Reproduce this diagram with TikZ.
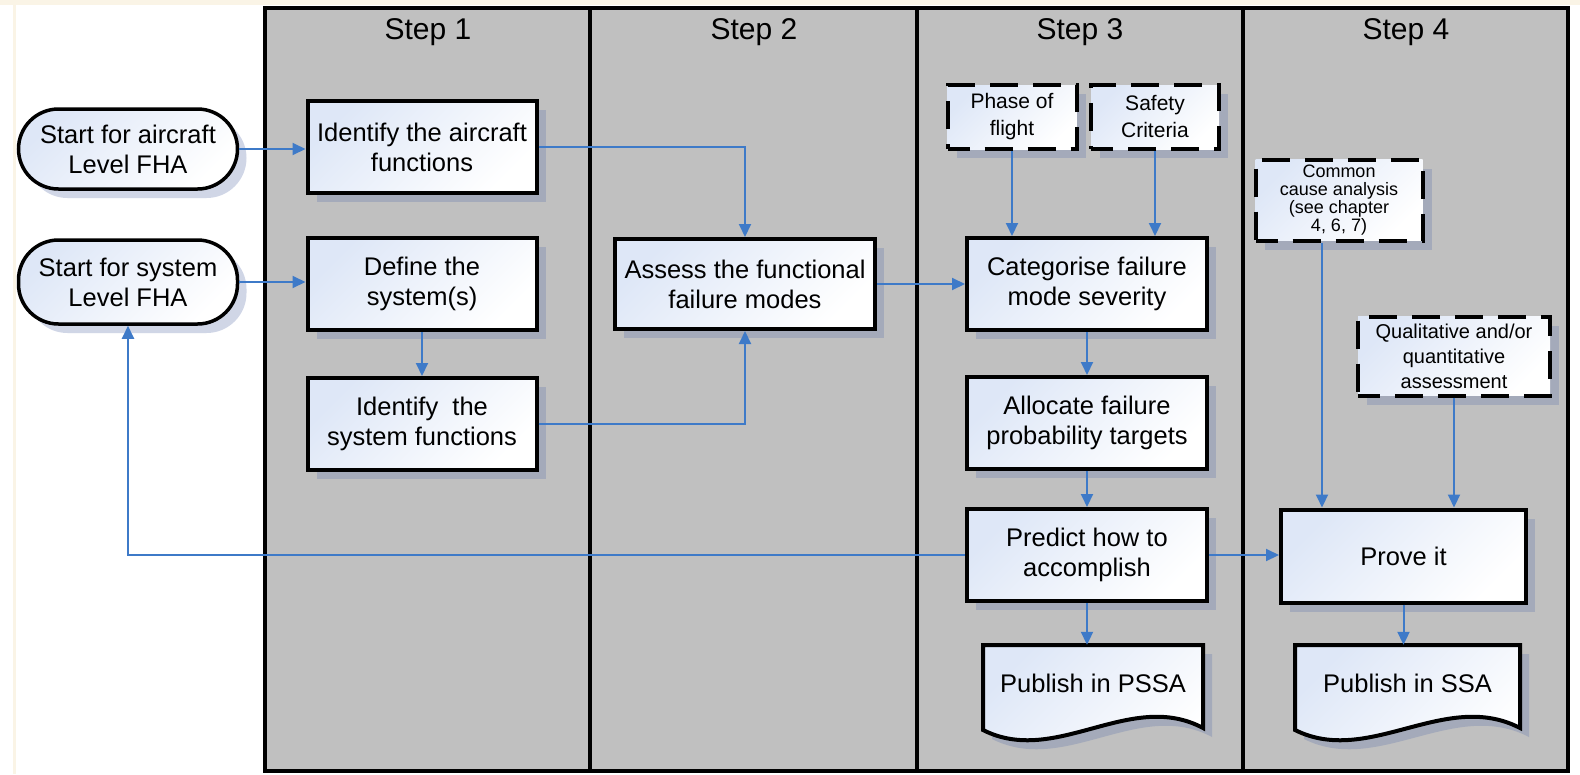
\documentclass[tikz,border=0pt]{standalone}
\usepackage{fontspec}
\setmainfont{Liberation Sans}
\usetikzlibrary{arrows.meta,shadows,calc}
\definecolor{lanegray}{RGB}{192,192,192}
\definecolor{arrowblue}{RGB}{62,122,200}
\definecolor{boxtop}{RGB}{222,231,247}
\definecolor{shadowc}{RGB}{100,120,175}
\definecolor{cream}{RGB}{250,244,230}
\tikzset{
  shadowed/.style={drop shadow={shadow xshift=9pt, shadow yshift=-9pt, fill=shadowc, opacity=0.3}},
  boxfill/.style={top color=boxtop, bottom color=white, shading angle=45},
  procbox/.style={shadowed, boxfill, draw=black, line width=4pt, rectangle, inner sep=0pt, align=center, font=\fontsize{25.5}{30}\selectfont},
  startbox/.style={procbox, line width=3.5pt, rounded corners=40pt},
  inputbox/.style={shadowed, boxfill, draw=black, line width=4pt, dash pattern=on 28pt off 15pt, dash phase=6pt, rectangle, inner sep=0pt, align=center},
  docbox/.style={rectangle, inner sep=0pt, align=center, font=\fontsize{25.5}{30}\selectfont},
  docline/.style={shadowed, boxfill, draw=black, line width=4pt},
  flow/.style={draw=arrowblue, line width=2pt, -{Triangle[length=13pt,width=12pt]}},
  lanehead/.style={font=\fontsize{30}{34}\selectfont},
  laneline/.style={draw=black, line width=3.5pt},
}
\begin{document}
\begin{tikzpicture}[x=1pt,y=-1pt]
\useasboundingbox (0,0) rectangle (1580,774);
\fill[white] (0,0) rectangle (1580,774);
\fill[cream] (0,0) rectangle (1580,5);
\fill[cream] (13,5) rectangle (16,774);
% lanes
\fill[lanegray] (265,8) rectangle (1568,771);
\draw[laneline] (590,8) -- (590,771);
\draw[laneline] (917,8) -- (917,771);
\draw[laneline] (1243,8) -- (1243,771);
\draw[laneline] (265,8) rectangle (1568,771);
\node[lanehead] (h1) at (428,32) {Step 1};
\node[lanehead] (h2) at (754,32) {Step 2};
\node[lanehead] (h3) at (1080,32) {Step 3};
\node[lanehead] (h4) at (1406,32) {Step 4};
% nodes
\node[startbox, minimum width=219pt, minimum height=80pt] (sa) at (128,149) {Start for aircraft\\Level FHA};
\node[startbox, minimum width=219pt, minimum height=84pt] (ss) at (128,282) {Start for system\\Level FHA};
\node[procbox, minimum width=229pt, minimum height=92pt] (ia) at (422,147) {Identify the aircraft\\functions};
\node[procbox, minimum width=229pt, minimum height=92pt] (ds) at (422,284) {Define the\\system(s)};
\node[procbox, minimum width=229pt, minimum height=92pt] (isf) at (422,424) {Identify\ \ the\\system functions};
\node[procbox, minimum width=260pt, minimum height=90pt] (af) at (745,284) {Assess the functional\\failure modes};
\node[inputbox, minimum width=129pt, minimum height=64pt, font=\fontsize{21}{27}\selectfont] (pf) at (1012,117) {Phase of\\flight};
\node[inputbox, minimum width=128pt, minimum height=64pt, font=\fontsize{21}{27}\selectfont] (sc) at (1155,117) {Safety\\Criteria};
\node[procbox, minimum width=240pt, minimum height=92pt] (cat) at (1087,284) {Categorise failure\\mode severity};
\node[procbox, minimum width=240pt, minimum height=92pt] (alloc) at (1087,423) {Allocate failure\\probability targets};
\node[procbox, minimum width=240pt, minimum height=92pt] (pred) at (1087,555) {Predict how to\\accomplish};
\node[inputbox, minimum width=167pt, minimum height=81pt, font=\fontsize{18}{18}\selectfont] (cc) at (1339,200) {Common\\cause analysis\\(see chapter\\4, 6, 7)};
\node[inputbox, minimum width=192pt, minimum height=79pt, font=\fontsize{20}{25}\selectfont] (qa) at (1454,356) {Qualitative and/or\\quantitative\\assessment};
\node[procbox, minimum width=245pt, minimum height=93pt] (prove) at (1403.5,556) {Prove it};
% documents
\path[docline] (983,645) -- (1203,645) -- (1203,728) .. controls (1130,689) and (1056,767) .. (983,730) -- cycle;
\path[docline] (1295,645) -- (1520,645) -- (1520,728) .. controls (1445,689) and (1369,767) .. (1295,730) -- cycle;
\node[docbox, minimum width=220pt, minimum height=77pt] (pssa) at (1093,683.5) {Publish in PSSA};
\node[docbox, minimum width=225pt, minimum height=77pt] (ssa) at (1407.5,683.5) {Publish in SSA};
% connectors
\draw[flow] (sa.east) -- (sa.east -| ia.west);
\draw[flow] (ss.east) -- (ss.east -| ds.west);
\draw[flow] (ia.east) -| (af.north);
\draw[flow] (ds.south) -- (isf.north);
\draw[flow] (isf.east) -| (af.south);
\draw[flow] (af.east) -- (af.east -| cat.west);
\draw[flow] (pf.south) -- (pf.south |- cat.north);
\draw[flow] (sc.south) -- (sc.south |- cat.north);
\draw[flow] (cat.south) -- (alloc.north);
\draw[flow] (alloc.south) -- (pred.north);
\draw[flow] (pred.south) -- (pred.south |- pssa.north);
\draw[flow] (pred.east) -- (pred.east -| prove.west);
\draw[flow] (pred.west) -| (ss.south);
\draw[flow] ([xshift=-17pt]cc.south) -- ([xshift=-17pt]cc.south |- prove.north);
\draw[flow] (qa.south) -- (qa.south |- prove.north);
\draw[flow] (prove.south) -- (prove.south |- ssa.north);
\end{tikzpicture}
\end{document}
